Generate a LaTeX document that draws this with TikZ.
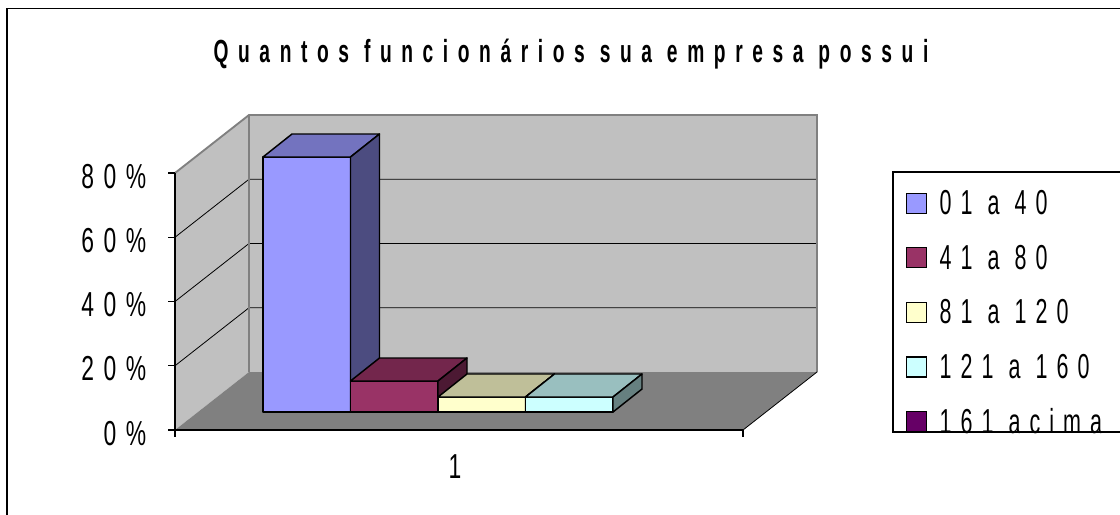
\documentclass[tikz,border=0pt]{standalone}
\usepackage{fontspec}
\usepackage{graphicx}
\setmainfont{Liberation Sans}
\newfontfamily\titlefont[LetterSpace=50]{Liberation Sans}
\newfontfamily\chartfont[LetterSpace=42]{Liberation Sans}
\usetikzlibrary{positioning}
\definecolor{barA}{HTML}{9999FF}
\definecolor{barB}{HTML}{993366}
\definecolor{barC}{HTML}{FFFFCC}
\definecolor{barD}{HTML}{CCFFFF}
\definecolor{barE}{HTML}{660066}
\definecolor{wallgray}{HTML}{C0C0C0}
\definecolor{floorgray}{HTML}{808080}
\newcommand{\titleText}[1]{{\titlefont\bfseries\fontsize{24pt}{27pt}\selectfont\scalebox{0.6}[1]{#1}}}
\newcommand{\axisText}[1]{{\chartfont\fontsize{26pt}{29pt}\selectfont\scalebox{0.66}[1]{#1}}}
\newcommand{\legendText}[1]{{\chartfont\fontsize{26pt}{29pt}\selectfont\scalebox{0.62}[1]{#1}}}
% one 3d column: left x, top y, colour
\newcommand{\chartBar}[3]{%
  \filldraw[barline, fill=#3] (#1,412) rectangle (#1+87.5,#2);
  \filldraw[barline, fill=#3!75!black] (#1,#2) -- ++(29,-23) -- ++(87.5,0) -- ++(-29,23) -- cycle;
  \filldraw[barline, fill=#3!50!black] (#1+87.5,412) -- ++(29,-23) -- (#1+116.5,#2-23) -- (#1+87.5,#2) -- cycle;
}

\begin{document}
\begin{tikzpicture}[x=0.75pt, y=-0.75pt,
    wall/.style={fill=wallgray},
    floor/.style={fill=floorgray},
    walledge/.style={draw=floorgray, line width=1.4pt},
    gridline/.style={draw=black, line width=0.6pt},
    barline/.style={draw=black, line width=1.1pt, line join=round},
    axisline/.style={draw=black, line width=0.8pt},
    swatch/.style={draw=black, line width=0.9pt, minimum size=15pt, inner sep=0pt}]
  \useasboundingbox (0,0) rectangle (1120,514);
  \clip (0,0) rectangle (1120,514);
  \draw[line width=1.2pt] (7,600) |- (1200,8.5);

  \node[anchor=base] (title) at (571,62) {\titleText{Quantos funcionários sua empresa possui}};

  % walls and floor
  \coordinate (flb) at (175,430);
  \coordinate (flt) at (175,173);
  \coordinate (blb) at (249,372);
  \coordinate (blt) at (249,115);
  \coordinate (brb) at (817,372);
  \coordinate (brt) at (817,115);
  \coordinate (frb) at (743,430);
  \fill[wall] (flb) -- (flt) -- (blt) -- (blb) -- cycle;
  \fill[wall] (blb) -- (blt) -- (brt) -- (brb) -- cycle;
  \fill[floor] (flb) -- (blb) -- (brb) -- (frb) -- cycle;
  \foreach \v in {1,2,3}
    \draw[gridline] (175,{430-64.25*\v}) -- (249,{372-64.25*\v}) -- (817,{372-64.25*\v});
  \draw[walledge] (flt) -- (blt) -- (brt) -- (brb);
  \draw[walledge] (blt) -- (blb);
  \draw[gridline] (frb) -- (brb);

  % axes
  \draw[axisline] (flt) -- (flb) -- (frb);
  \draw[axisline] (flb) -- ++(0,7);
  \draw[axisline] (frb) -- ++(0,7);
  \foreach \v in {0,20,40,60,80} {
    \draw[axisline] (168,{430-3.2125*\v}) -- ++(7,0);
    \node[anchor=base east] (lbl\v) at (151,{445-3.2125*\v}) {\axisText{\v\%}};
  }
  \node[anchor=base] (cat) at (455,478) {\axisText{1}};

  % columns
  \chartBar{263}{157}{barA}
  \chartBar{350.5}{381}{barB}
  \chartBar{438}{397}{barC}
  \chartBar{525.5}{397}{barD}

  % legend
  \draw[black, line width=0.8pt] (893,172) rectangle (1140,432);
  \foreach \c/\t [count=\i] in {barA/01 a 40, barB/41 a 80, barC/81 a 120, barD/121 a 160, barE/161 acima} {
    \node[swatch, fill=\c] (key\i) at (916.5,{148.5+54.6*\i}) {};
    \node[anchor=base west] (item\i) at (935,{160+54.6*\i}) {\legendText{\t}};
  }
\end{tikzpicture}
\end{document}
